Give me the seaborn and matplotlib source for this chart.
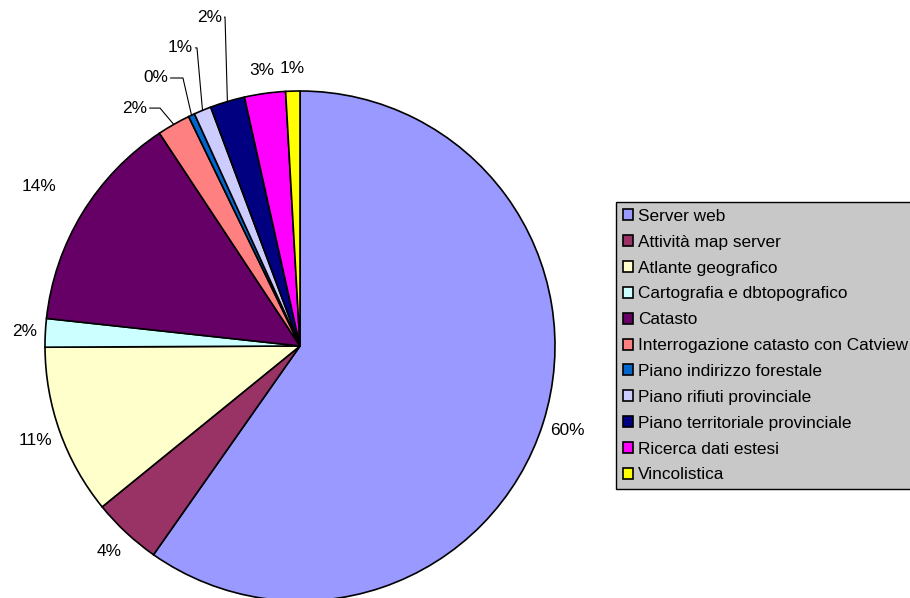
import matplotlib
matplotlib.use("Agg")
import numpy as np
import matplotlib.pyplot as plt
import seaborn as sns

# data (percent of requests)
categories = [
    "Server web",
    "Attività map server",
    "Atlante geografico",
    "Cartografia e dbtopografico",
    "Catasto",
    "Interrogazione catasto con Catview",
    "Piano indirizzo forestale",
    "Piano rifiuti provinciale",
    "Piano territoriale provinciale",
    "Ricerca dati estesi",
    "Vincolistica",
]
values = [59.8, 4.4, 10.8, 1.8, 14.0, 2.1, 0.4, 1.1, 2.2, 2.6, 0.9]
colors = [
    "#9999FF", "#993366", "#FFFFCC", "#CCFFFF", "#660066", "#FF8080",
    "#0066CC", "#CCCCFF", "#000080", "#FF00FF", "#FFFF00",
]

# label placement (style only)
label_r = [1.1, 1.1, 1.1, 1.08, 1.2, None, None, None, None, 1.09, 1.09]
leader = {
    5: (-0.60, 0.933, -0.549),
    6: (-0.518, 1.051, -0.459),
    7: (-0.42, 1.169, -0.404),
    8: (-0.306, 1.29, -0.294),
}

sns.set_theme(style="white")
plt.rcParams["font.family"] = ["Liberation Sans", "DejaVu Sans"]
plt.rcParams["text.color"] = "black"

fig = plt.figure(figsize=(9.1, 5.98), dpi=100)
ax = fig.add_axes([0, 0, 1, 1])

wedges, _ = ax.pie(
    values,
    colors=colors,
    startangle=90,
    counterclock=False,
    wedgeprops=dict(edgecolor="black", linewidth=1.2),
)

total = sum(values)
fs = 12.4

for i, w in enumerate(wedges):
    pct = values[i] / total * 100
    txt = f"{pct:.0f}%"
    mid = np.deg2rad((w.theta1 + w.theta2) / 2)
    if i in leader:
        tx, ty, ex = leader[i]
        px, py = np.cos(mid), np.sin(mid)
        ax.text(tx, ty, txt, ha="right", va="center", fontsize=fs, color="black")
        ax.plot([tx + 0.01, ex, px], [ty, ty, py], color="black", lw=0.8)
    else:
        r = label_r[i]
        ax.text(r * np.cos(mid), r * np.sin(mid), txt,
                ha="center", va="center", fontsize=fs, color="black")

ax.set_aspect("auto")
ax.set_xlim(-300 / 255, 610 / 255)
ax.set_ylim(-252 / 255, 346 / 255)
ax.axis("off")

leg = fig.legend(
    wedges, categories,
    loc="upper left",
    bbox_to_anchor=(616 / 910, 1 - 202 / 598),
    frameon=True, fancybox=False,
    edgecolor="black", facecolor="#C8C8C8", framealpha=1,
    fontsize=fs, labelcolor="black",
    handlelength=0.6, handleheight=0.6, handletextpad=0.3,
    labelspacing=0.63, borderpad=0.4, borderaxespad=0,
)
leg.get_frame().set_linewidth(1)

fig.savefig("out.png", dpi=100)
